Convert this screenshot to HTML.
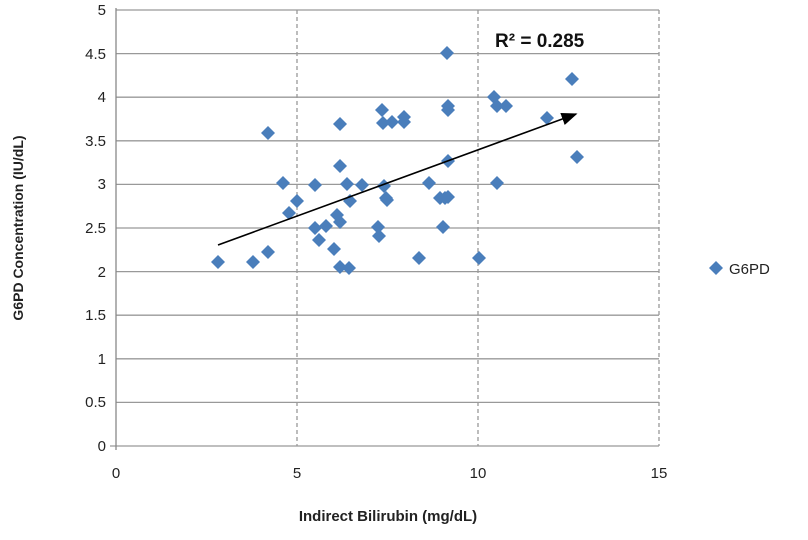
<!DOCTYPE html>
<html><head><style>body{margin:0;background:#fff}</style></head><body>
<svg width="808" height="535" xmlns="http://www.w3.org/2000/svg" font-family="Liberation Sans, sans-serif">
<defs><marker id="a" markerWidth="10" markerHeight="8" refX="9" refY="4" orient="auto"><path d="M0,0 L10,4 L0,8 z" fill="#000"/></marker>
<path id="d" d="M0,-7 L7,0 L0,7 L-7,0 z" fill="#4a7ebb"/></defs>
<g stroke="#999" stroke-width="1.3">
<line x1="116" y1="10" x2="659" y2="10"/><line x1="116" y1="53.6" x2="659" y2="53.6"/><line x1="116" y1="97.2" x2="659" y2="97.2"/><line x1="116" y1="140.8" x2="659" y2="140.8"/><line x1="116" y1="184.4" x2="659" y2="184.4"/><line x1="116" y1="228" x2="659" y2="228"/><line x1="116" y1="271.6" x2="659" y2="271.6"/><line x1="116" y1="315.2" x2="659" y2="315.2"/><line x1="116" y1="358.8" x2="659" y2="358.8"/><line x1="116" y1="402.4" x2="659" y2="402.4"/><line x1="110" y1="446" x2="659" y2="446"/>
</g>
<g stroke="#999" stroke-width="1.3" stroke-dasharray="4,3">
<line x1="297" y1="10" x2="297" y2="446"/><line x1="478" y1="10" x2="478" y2="446"/><line x1="659" y1="10" x2="659" y2="446"/>
</g>
<line x1="116" y1="8" x2="116" y2="450" stroke="#888" stroke-width="1.3"/>
<g font-size="15" fill="#222" text-anchor="end">
<text x="106" y="451">0</text><text x="106" y="407">0.5</text><text x="106" y="364">1</text><text x="106" y="320">1.5</text><text x="106" y="277">2</text><text x="106" y="233">2.5</text><text x="106" y="189">3</text><text x="106" y="146">3.5</text><text x="106" y="102">4</text><text x="106" y="59">4.5</text><text x="106" y="15">5</text>
</g>
<g font-size="15" fill="#222" text-anchor="middle">
<text x="116" y="478">0</text><text x="297" y="478">5</text><text x="478" y="478">10</text><text x="659" y="478">15</text>
</g>
<text x="388" y="521" font-size="15" font-weight="bold" text-anchor="middle" fill="#222">Indirect Bilirubin (mg/dL)</text>
<text transform="translate(23,228) rotate(-90)" font-size="14" font-weight="bold" text-anchor="middle" fill="#222">G6PD Concentration (IU/dL)</text>
<text x="495" y="47" font-size="19" font-weight="bold" fill="#111">R² = 0.285</text>
<g>
<use href="#d" x="218" y="262"/><use href="#d" x="253" y="262"/><use href="#d" x="268" y="133"/><use href="#d" x="268" y="252"/><use href="#d" x="283" y="183"/><use href="#d" x="289" y="213"/><use href="#d" x="297" y="201"/><use href="#d" x="315" y="185"/><use href="#d" x="315" y="228"/><use href="#d" x="319" y="240"/><use href="#d" x="326" y="226"/><use href="#d" x="334" y="249"/><use href="#d" x="337" y="215"/><use href="#d" x="340" y="124"/><use href="#d" x="340" y="166"/><use href="#d" x="340" y="222"/><use href="#d" x="340" y="267"/><use href="#d" x="347" y="184"/><use href="#d" x="349" y="268"/><use href="#d" x="350" y="201"/><use href="#d" x="362" y="185"/><use href="#d" x="378" y="227"/><use href="#d" x="379" y="236"/><use href="#d" x="382" y="110"/><use href="#d" x="383" y="123"/><use href="#d" x="384" y="186"/><use href="#d" x="386" y="198"/><use href="#d" x="387" y="200"/><use href="#d" x="392" y="122"/><use href="#d" x="404" y="117"/><use href="#d" x="404" y="122"/><use href="#d" x="419" y="258"/><use href="#d" x="429" y="183"/><use href="#d" x="440" y="198"/><use href="#d" x="443" y="227"/><use href="#d" x="445" y="198"/><use href="#d" x="447" y="53"/><use href="#d" x="448" y="106"/><use href="#d" x="448" y="110"/><use href="#d" x="448" y="161"/><use href="#d" x="448" y="197"/><use href="#d" x="479" y="258"/><use href="#d" x="494" y="97"/><use href="#d" x="497" y="106"/><use href="#d" x="497" y="183"/><use href="#d" x="506" y="106"/><use href="#d" x="547" y="118"/><use href="#d" x="572" y="79"/><use href="#d" x="577" y="157"/>
</g>
<line x1="218" y1="245" x2="576" y2="114" stroke="#000" stroke-width="1.6" marker-end="url(#a)"/>
<use href="#d" x="716" y="268" transform="translate(0,0)"/>
<text x="729" y="274" font-size="15" fill="#222">G6PD</text>
</svg>
</body></html>
